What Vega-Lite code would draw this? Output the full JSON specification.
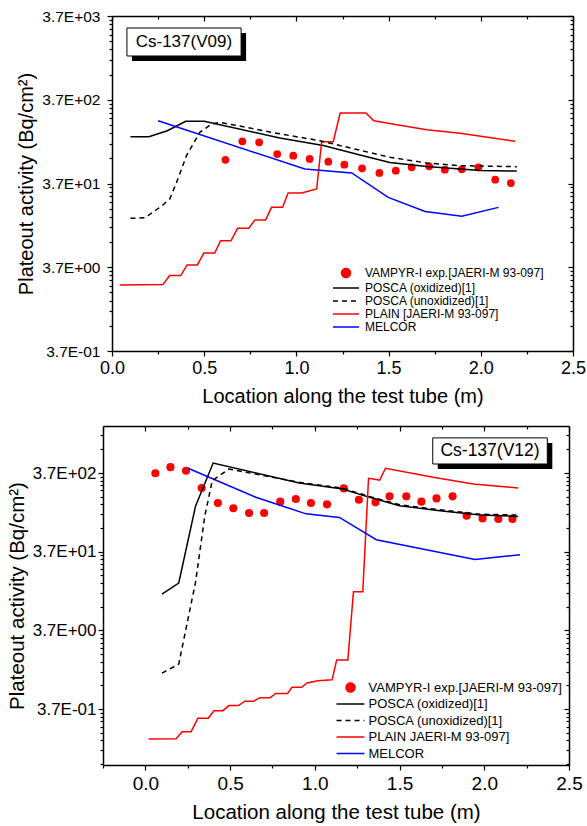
{
  "$schema": "https://vega.github.io/schema/vega-lite/v6.json",
  "padding": {"left": 7, "top": 9, "right": 0, "bottom": 0},
  "config": {
    "font": "Liberation Sans",
    "view": {"stroke": null},
    "axis": {"domainColor": "black", "domainWidth": 1.5, "tickColor": "black", "tickWidth": 1.2, "grid": false, "labelColor": "black", "titleColor": "black", "labelFont": "Liberation Sans", "titleFont": "Liberation Sans", "titleFontWeight": "normal", "labelOverlap": false, "labelFlush": false, "labelBound": false},
    "legend": {"labelFont": "Liberation Sans", "labelColor": "black", "padding": 0, "symbolStrokeWidth": 1.5, "labelLimit": 500}
  },
  "spacing": 19,
  "align": "none",
  "resolve": {"scale": {"x": "independent", "y": "independent", "color": "independent"}, "legend": {"color": "independent"}},
  "datasets": {
    "top": [
      {"x": 0.615, "y": 71, "series": "VAMPYR-I exp.[JAERI-M 93-097]"},
      {"x": 0.707, "y": 118, "series": "VAMPYR-I exp.[JAERI-M 93-097]"},
      {"x": 0.798, "y": 115, "series": "VAMPYR-I exp.[JAERI-M 93-097]"},
      {"x": 0.896, "y": 83, "series": "VAMPYR-I exp.[JAERI-M 93-097]"},
      {"x": 0.983, "y": 79.5, "series": "VAMPYR-I exp.[JAERI-M 93-097]"},
      {"x": 1.072, "y": 72.6, "series": "VAMPYR-I exp.[JAERI-M 93-097]"},
      {"x": 1.173, "y": 67.4, "series": "VAMPYR-I exp.[JAERI-M 93-097]"},
      {"x": 1.26, "y": 62, "series": "VAMPYR-I exp.[JAERI-M 93-097]"},
      {"x": 1.356, "y": 56.2, "series": "VAMPYR-I exp.[JAERI-M 93-097]"},
      {"x": 1.45, "y": 49.4, "series": "VAMPYR-I exp.[JAERI-M 93-097]"},
      {"x": 1.539, "y": 52.6, "series": "VAMPYR-I exp.[JAERI-M 93-097]"},
      {"x": 1.625, "y": 57.7, "series": "VAMPYR-I exp.[JAERI-M 93-097]"},
      {"x": 1.72, "y": 59.3, "series": "VAMPYR-I exp.[JAERI-M 93-097]"},
      {"x": 1.805, "y": 54.1, "series": "VAMPYR-I exp.[JAERI-M 93-097]"},
      {"x": 1.897, "y": 54.7, "series": "VAMPYR-I exp.[JAERI-M 93-097]"},
      {"x": 1.987, "y": 57.7, "series": "VAMPYR-I exp.[JAERI-M 93-097]"},
      {"x": 2.078, "y": 41.1, "series": "VAMPYR-I exp.[JAERI-M 93-097]"},
      {"x": 2.163, "y": 37.5, "series": "VAMPYR-I exp.[JAERI-M 93-097]"},
      {"x": 0.1, "y": 134, "series": "POSCA (oxidized)[1]"},
      {"x": 0.2, "y": 134, "series": "POSCA (oxidized)[1]"},
      {"x": 0.3, "y": 158, "series": "POSCA (oxidized)[1]"},
      {"x": 0.4, "y": 205, "series": "POSCA (oxidized)[1]"},
      {"x": 0.5, "y": 205, "series": "POSCA (oxidized)[1]"},
      {"x": 0.91, "y": 129, "series": "POSCA (oxidized)[1]"},
      {"x": 1.146, "y": 105, "series": "POSCA (oxidized)[1]"},
      {"x": 1.345, "y": 81, "series": "POSCA (oxidized)[1]"},
      {"x": 1.507, "y": 66, "series": "POSCA (oxidized)[1]"},
      {"x": 1.707, "y": 59, "series": "POSCA (oxidized)[1]"},
      {"x": 1.996, "y": 53, "series": "POSCA (oxidized)[1]"},
      {"x": 2.195, "y": 52, "series": "POSCA (oxidized)[1]"},
      {"x": 0.1, "y": 14.2, "series": "POSCA (unoxidized)[1]"},
      {"x": 0.178, "y": 14.4, "series": "POSCA (unoxidized)[1]"},
      {"x": 0.268, "y": 19.8, "series": "POSCA (unoxidized)[1]"},
      {"x": 0.313, "y": 24.2, "series": "POSCA (unoxidized)[1]"},
      {"x": 0.35, "y": 38, "series": "POSCA (unoxidized)[1]"},
      {"x": 0.404, "y": 79.5, "series": "POSCA (unoxidized)[1]"},
      {"x": 0.476, "y": 151, "series": "POSCA (unoxidized)[1]"},
      {"x": 0.54, "y": 190, "series": "POSCA (unoxidized)[1]"},
      {"x": 0.585, "y": 199, "series": "POSCA (unoxidized)[1]"},
      {"x": 0.91, "y": 145, "series": "POSCA (unoxidized)[1]"},
      {"x": 1.127, "y": 120, "series": "POSCA (unoxidized)[1]"},
      {"x": 1.507, "y": 76, "series": "POSCA (unoxidized)[1]"},
      {"x": 1.707, "y": 65, "series": "POSCA (unoxidized)[1]"},
      {"x": 1.888, "y": 60.4, "series": "POSCA (unoxidized)[1]"},
      {"x": 2.195, "y": 58.7, "series": "POSCA (unoxidized)[1]"},
      {"x": 0.042, "y": 2.27, "series": "PLAIN [JAERI-M 93-097]"},
      {"x": 0.276, "y": 2.3, "series": "PLAIN [JAERI-M 93-097]"},
      {"x": 0.313, "y": 2.94, "series": "PLAIN [JAERI-M 93-097]"},
      {"x": 0.373, "y": 2.94, "series": "PLAIN [JAERI-M 93-097]"},
      {"x": 0.407, "y": 3.94, "series": "PLAIN [JAERI-M 93-097]"},
      {"x": 0.463, "y": 3.94, "series": "PLAIN [JAERI-M 93-097]"},
      {"x": 0.498, "y": 5.47, "series": "PLAIN [JAERI-M 93-097]"},
      {"x": 0.557, "y": 5.47, "series": "PLAIN [JAERI-M 93-097]"},
      {"x": 0.589, "y": 7.67, "series": "PLAIN [JAERI-M 93-097]"},
      {"x": 0.645, "y": 7.67, "series": "PLAIN [JAERI-M 93-097]"},
      {"x": 0.681, "y": 10.8, "series": "PLAIN [JAERI-M 93-097]"},
      {"x": 0.742, "y": 10.8, "series": "PLAIN [JAERI-M 93-097]"},
      {"x": 0.775, "y": 13.6, "series": "PLAIN [JAERI-M 93-097]"},
      {"x": 0.833, "y": 13.6, "series": "PLAIN [JAERI-M 93-097]"},
      {"x": 0.865, "y": 19.2, "series": "PLAIN [JAERI-M 93-097]"},
      {"x": 0.925, "y": 19.2, "series": "PLAIN [JAERI-M 93-097]"},
      {"x": 0.955, "y": 28.5, "series": "PLAIN [JAERI-M 93-097]"},
      {"x": 1.028, "y": 28.5, "series": "PLAIN [JAERI-M 93-097]"},
      {"x": 1.11, "y": 31.8, "series": "PLAIN [JAERI-M 93-097]"},
      {"x": 1.137, "y": 117, "series": "PLAIN [JAERI-M 93-097]"},
      {"x": 1.2, "y": 117, "series": "PLAIN [JAERI-M 93-097]"},
      {"x": 1.237, "y": 257, "series": "PLAIN [JAERI-M 93-097]"},
      {"x": 1.377, "y": 257, "series": "PLAIN [JAERI-M 93-097]"},
      {"x": 1.42, "y": 208, "series": "PLAIN [JAERI-M 93-097]"},
      {"x": 1.553, "y": 185, "series": "PLAIN [JAERI-M 93-097]"},
      {"x": 1.707, "y": 162, "series": "PLAIN [JAERI-M 93-097]"},
      {"x": 1.888, "y": 147, "series": "PLAIN [JAERI-M 93-097]"},
      {"x": 2.186, "y": 118, "series": "PLAIN [JAERI-M 93-097]"},
      {"x": 0.25, "y": 208, "series": "MELCOR"},
      {"x": 1.046, "y": 55, "series": "MELCOR"},
      {"x": 1.3, "y": 49.4, "series": "MELCOR"},
      {"x": 1.498, "y": 25.3, "series": "MELCOR"},
      {"x": 1.698, "y": 17.1, "series": "MELCOR"},
      {"x": 1.897, "y": 15, "series": "MELCOR"},
      {"x": 2.096, "y": 19.2, "series": "MELCOR"}
    ],
    "bottom": [
      {"x": 0.059, "y": 367, "series": "VAMPYR-I exp.[JAERI-M 93-097]"},
      {"x": 0.148, "y": 439, "series": "VAMPYR-I exp.[JAERI-M 93-097]"},
      {"x": 0.24, "y": 396, "series": "VAMPYR-I exp.[JAERI-M 93-097]"},
      {"x": 0.332, "y": 239, "series": "VAMPYR-I exp.[JAERI-M 93-097]"},
      {"x": 0.428, "y": 154, "series": "VAMPYR-I exp.[JAERI-M 93-097]"},
      {"x": 0.519, "y": 132, "series": "VAMPYR-I exp.[JAERI-M 93-097]"},
      {"x": 0.612, "y": 115, "series": "VAMPYR-I exp.[JAERI-M 93-097]"},
      {"x": 0.701, "y": 115, "series": "VAMPYR-I exp.[JAERI-M 93-097]"},
      {"x": 0.796, "y": 160, "series": "VAMPYR-I exp.[JAERI-M 93-097]"},
      {"x": 0.888, "y": 173, "series": "VAMPYR-I exp.[JAERI-M 93-097]"},
      {"x": 0.977, "y": 154, "series": "VAMPYR-I exp.[JAERI-M 93-097]"},
      {"x": 1.072, "y": 148, "series": "VAMPYR-I exp.[JAERI-M 93-097]"},
      {"x": 1.171, "y": 236, "series": "VAMPYR-I exp.[JAERI-M 93-097]"},
      {"x": 1.26, "y": 169, "series": "VAMPYR-I exp.[JAERI-M 93-097]"},
      {"x": 1.358, "y": 157, "series": "VAMPYR-I exp.[JAERI-M 93-097]"},
      {"x": 1.441, "y": 187, "series": "VAMPYR-I exp.[JAERI-M 93-097]"},
      {"x": 1.54, "y": 187, "series": "VAMPYR-I exp.[JAERI-M 93-097]"},
      {"x": 1.629, "y": 160, "series": "VAMPYR-I exp.[JAERI-M 93-097]"},
      {"x": 1.718, "y": 176, "series": "VAMPYR-I exp.[JAERI-M 93-097]"},
      {"x": 1.813, "y": 187, "series": "VAMPYR-I exp.[JAERI-M 93-097]"},
      {"x": 1.896, "y": 106, "series": "VAMPYR-I exp.[JAERI-M 93-097]"},
      {"x": 1.99, "y": 98, "series": "VAMPYR-I exp.[JAERI-M 93-097]"},
      {"x": 2.083, "y": 96.3, "series": "VAMPYR-I exp.[JAERI-M 93-097]"},
      {"x": 2.166, "y": 96.3, "series": "VAMPYR-I exp.[JAERI-M 93-097]"},
      {"x": 0.098, "y": 10.7, "series": "POSCA (oxidized)[1]"},
      {"x": 0.197, "y": 14.8, "series": "POSCA (oxidized)[1]"},
      {"x": 0.296, "y": 140, "series": "POSCA (oxidized)[1]"},
      {"x": 0.4, "y": 496, "series": "POSCA (oxidized)[1]"},
      {"x": 0.908, "y": 276, "series": "POSCA (oxidized)[1]"},
      {"x": 1.165, "y": 232, "series": "POSCA (oxidized)[1]"},
      {"x": 1.303, "y": 187, "series": "POSCA (oxidized)[1]"},
      {"x": 1.5, "y": 142, "series": "POSCA (oxidized)[1]"},
      {"x": 1.738, "y": 123, "series": "POSCA (oxidized)[1]"},
      {"x": 1.975, "y": 108, "series": "POSCA (oxidized)[1]"},
      {"x": 2.2, "y": 104, "series": "POSCA (oxidized)[1]"},
      {"x": 0.098, "y": 1.06, "series": "POSCA (unoxidized)[1]"},
      {"x": 0.197, "y": 1.38, "series": "POSCA (unoxidized)[1]"},
      {"x": 0.296, "y": 15.1, "series": "POSCA (unoxidized)[1]"},
      {"x": 0.351, "y": 106, "series": "POSCA (unoxidized)[1]"},
      {"x": 0.395, "y": 296, "series": "POSCA (unoxidized)[1]"},
      {"x": 0.493, "y": 416, "series": "POSCA (unoxidized)[1]"},
      {"x": 0.908, "y": 282, "series": "POSCA (unoxidized)[1]"},
      {"x": 1.165, "y": 237, "series": "POSCA (unoxidized)[1]"},
      {"x": 1.303, "y": 191, "series": "POSCA (unoxidized)[1]"},
      {"x": 1.5, "y": 146, "series": "POSCA (unoxidized)[1]"},
      {"x": 1.738, "y": 126, "series": "POSCA (unoxidized)[1]"},
      {"x": 1.975, "y": 111, "series": "POSCA (unoxidized)[1]"},
      {"x": 2.2, "y": 108, "series": "POSCA (unoxidized)[1]"},
      {"x": 0.02, "y": 0.154, "series": "PLAIN JAERI-M 93-097]"},
      {"x": 0.181, "y": 0.155, "series": "PLAIN JAERI-M 93-097]"},
      {"x": 0.217, "y": 0.191, "series": "PLAIN JAERI-M 93-097]"},
      {"x": 0.27, "y": 0.191, "series": "PLAIN JAERI-M 93-097]"},
      {"x": 0.31, "y": 0.283, "series": "PLAIN JAERI-M 93-097]"},
      {"x": 0.371, "y": 0.283, "series": "PLAIN JAERI-M 93-097]"},
      {"x": 0.405, "y": 0.353, "series": "PLAIN JAERI-M 93-097]"},
      {"x": 0.458, "y": 0.353, "series": "PLAIN JAERI-M 93-097]"},
      {"x": 0.493, "y": 0.41, "series": "PLAIN JAERI-M 93-097]"},
      {"x": 0.549, "y": 0.41, "series": "PLAIN JAERI-M 93-097]"},
      {"x": 0.588, "y": 0.466, "series": "PLAIN JAERI-M 93-097]"},
      {"x": 0.638, "y": 0.466, "series": "PLAIN JAERI-M 93-097]"},
      {"x": 0.677, "y": 0.517, "series": "PLAIN JAERI-M 93-097]"},
      {"x": 0.736, "y": 0.517, "series": "PLAIN JAERI-M 93-097]"},
      {"x": 0.77, "y": 0.585, "series": "PLAIN JAERI-M 93-097]"},
      {"x": 0.839, "y": 0.585, "series": "PLAIN JAERI-M 93-097]"},
      {"x": 0.865, "y": 0.7, "series": "PLAIN JAERI-M 93-097]"},
      {"x": 0.922, "y": 0.7, "series": "PLAIN JAERI-M 93-097]"},
      {"x": 0.954, "y": 0.795, "series": "PLAIN JAERI-M 93-097]"},
      {"x": 1.017, "y": 0.85, "series": "PLAIN JAERI-M 93-097]"},
      {"x": 1.102, "y": 0.87, "series": "PLAIN JAERI-M 93-097]"},
      {"x": 1.129, "y": 1.56, "series": "PLAIN JAERI-M 93-097]"},
      {"x": 1.195, "y": 1.56, "series": "PLAIN JAERI-M 93-097]"},
      {"x": 1.228, "y": 11.5, "series": "PLAIN JAERI-M 93-097]"},
      {"x": 1.283, "y": 11.5, "series": "PLAIN JAERI-M 93-097]"},
      {"x": 1.317, "y": 317, "series": "PLAIN JAERI-M 93-097]"},
      {"x": 1.383, "y": 301, "series": "PLAIN JAERI-M 93-097]"},
      {"x": 1.417, "y": 425, "series": "PLAIN JAERI-M 93-097]"},
      {"x": 1.698, "y": 326, "series": "PLAIN JAERI-M 93-097]"},
      {"x": 1.935, "y": 268, "series": "PLAIN JAERI-M 93-097]"},
      {"x": 2.2, "y": 239, "series": "PLAIN JAERI-M 93-097]"},
      {"x": 0.252, "y": 425, "series": "MELCOR"},
      {"x": 0.652, "y": 182, "series": "MELCOR"},
      {"x": 0.948, "y": 112, "series": "MELCOR"},
      {"x": 1.145, "y": 101, "series": "MELCOR"},
      {"x": 1.363, "y": 52.6, "series": "MELCOR"},
      {"x": 1.945, "y": 29.4, "series": "MELCOR"},
      {"x": 2.211, "y": 33.9, "series": "MELCOR"}
    ]
  },
  "vconcat": [
    {
      "width": 470,
      "height": 335,
      "data": {"name": "top"},
      "resolve": {"axis": {"x": "independent", "y": "independent"}},
      "layer": [
        {
          "transform": [{"filter": "datum.series == 'VAMPYR-I exp.[JAERI-M 93-097]'"}],
          "mark": {"type": "point", "shape": "circle", "filled": true, "size": 60, "opacity": 1},
          "encoding": {
            "x": {"field": "x", "type": "quantitative", "scale": {"domain": [0, 2.5], "range": [9, 470], "nice": false, "zero": false},
              "axis": {"orient": "bottom", "values": [0, 0.25, 0.5, 0.75, 1, 1.25, 1.5, 1.75, 2, 2.25, 2.5], "labelExpr": "datum.value % 0.5 == 0 ? format(datum.value, '.1f') : ''", "tickSize": {"condition": {"test": "datum.value % 0.5 == 0", "value": 5}, "value": 3}, "labelFontSize": 18, "labelPadding": 3, "title": "Location along the test tube (m)", "titleFontSize": 20, "titlePadding": 9}},
            "y": {"field": "y", "type": "quantitative", "scale": {"type": "log", "domain": [0.37, 3700], "nice": false, "zero": false},
              "axis": {"orient": "left", "offset": -9, "values": [0.37, 0.74, 1.11, 1.48, 1.85, 2.22, 2.59, 2.96, 3.33, 3.7, 7.4, 11.1, 14.8, 18.5, 22.2, 25.9, 29.6, 33.3, 37, 74, 111, 148, 185, 222, 259, 296, 333, 370, 740, 1110, 1480, 1850, 2220, 2590, 2960, 3330, 3700],
                "labelExpr": "datum.value == 0.37 ? '3.7E-01' : datum.value == 3.7 ? '3.7E+00' : datum.value == 37 ? '3.7E+01' : datum.value == 370 ? '3.7E+02' : datum.value == 3700 ? '3.7E+03' : ''",
                "tickSize": {"condition": {"test": "indexof([0.37, 3.7, 37, 370, 3700], datum.value) >= 0", "value": 5}, "value": 3},
                "labelFontSize": 15.5, "labelPadding": 7, "title": "Plateout activity (Bq/cm²)", "titleFontSize": 20, "titlePadding": 5}},
            "color": {"field": "series", "type": "nominal",
              "scale": {"domain": ["VAMPYR-I exp.[JAERI-M 93-097]", "POSCA (oxidized)[1]", "POSCA (unoxidized)[1]", "PLAIN [JAERI-M 93-097]", "MELCOR"], "range": ["#ff0000", "#000000", "#000000", "#ff0000", "#0000ff"]},
              "legend": {"title": null, "orient": "none", "legendX": 237, "legendY": 251, "labelFontSize": 12, "rowPadding": 1, "labelOffset": 13, "symbolSize": 81,
                "symbolType": {"expr": "datum.value == 'VAMPYR-I exp.[JAERI-M 93-097]' ? 'circle' : 'M-2.9,0H2.9'"},
                "symbolDash": {"expr": "datum.value == 'POSCA (unoxidized)[1]' ? [5, 4] : [1, 0]"},
                "symbolStrokeColor": {"expr": "datum.value == 'VAMPYR-I exp.[JAERI-M 93-097]' ? 'transparent' : datum.value == 'MELCOR' ? '#0000ff' : indexof(datum.value, 'PLAIN') == 0 ? '#ff0000' : '#000000'"},
                "symbolFillColor": {"expr": "datum.value == 'VAMPYR-I exp.[JAERI-M 93-097]' ? '#ff0000' : 'transparent'"}}}
          }
        },
        {
          "transform": [{"filter": "datum.series != 'VAMPYR-I exp.[JAERI-M 93-097]' && datum.series != 'POSCA (unoxidized)[1]'"}],
          "mark": {"type": "line", "strokeWidth": 1.5},
          "encoding": {
            "x": {"field": "x", "type": "quantitative", "axis": {"orient": "top", "values": [0, 0.25, 0.5, 0.75, 1, 1.25, 1.5, 1.75, 2, 2.25, 2.5], "labels": false, "title": null, "tickSize": {"condition": {"test": "datum.value % 0.5 == 0", "value": -5}, "value": -3}}},
            "y": {"field": "y", "type": "quantitative", "axis": {"orient": "right", "values": [0.37, 0.74, 1.11, 1.48, 1.85, 2.22, 2.59, 2.96, 3.33, 3.7, 7.4, 11.1, 14.8, 18.5, 22.2, 25.9, 29.6, 33.3, 37, 74, 111, 148, 185, 222, 259, 296, 333, 370, 740, 1110, 1480, 1850, 2220, 2590, 2960, 3330, 3700], "labels": false, "title": null, "tickSize": {"condition": {"test": "indexof([0.37, 3.7, 37, 370, 3700], datum.value) >= 0", "value": -5}, "value": -3}}},
            "color": {"field": "series", "type": "nominal"}
          }
        },
        {
          "transform": [{"filter": "datum.series == 'POSCA (unoxidized)[1]'"}],
          "mark": {"type": "line", "strokeWidth": 1.5, "strokeDash": [5, 4]},
          "encoding": {
            "x": {"field": "x", "type": "quantitative", "axis": null},
            "y": {"field": "y", "type": "quantitative", "axis": null},
            "color": {"field": "series", "type": "nominal"}
          }
        },
        {
          "data": {"values": [{"label": "Cs-137(V09)"}]},
          "mark": {"type": "rect", "fill": "black", "xOffset": 5, "x2Offset": 5, "yOffset": 5, "y2Offset": 5},
          "encoding": {
            "x": {"datum": 0.081, "type": "quantitative", "axis": null},
            "x2": {"datum": 0.7},
            "y": {"datum": 2660, "type": "quantitative", "axis": null},
            "y2": {"datum": 1232}
          }
        },
        {
          "data": {"values": [{"label": "Cs-137(V09)"}]},
          "mark": {"type": "rect", "fill": "white", "stroke": "black", "strokeWidth": 1},
          "encoding": {
            "x": {"datum": 0.081, "type": "quantitative", "axis": null},
            "x2": {"datum": 0.7},
            "y": {"datum": 2660, "type": "quantitative", "axis": null},
            "y2": {"datum": 1232}
          }
        },
        {
          "data": {"values": [{"label": "Cs-137(V09)"}]},
          "mark": {"type": "text", "fontSize": 17, "font": "Liberation Sans", "color": "black", "align": "center", "baseline": "middle"},
          "encoding": {
            "text": {"field": "label"},
            "x": {"datum": 0.39, "type": "quantitative", "axis": null},
            "y": {"datum": 1810, "type": "quantitative", "axis": null}
          }
        }
      ]
    },
    {
      "width": 466,
      "height": 339,
      "data": {"name": "bottom"},
      "resolve": {"axis": {"x": "independent", "y": "independent"}},
      "layer": [
        {
          "transform": [{"filter": "datum.series == 'VAMPYR-I exp.[JAERI-M 93-097]'"}],
          "mark": {"type": "point", "shape": "circle", "filled": true, "size": 66, "opacity": 1},
          "encoding": {
            "x": {"field": "x", "type": "quantitative", "scale": {"domain": [-0.25, 2.5], "nice": false, "zero": false},
              "axis": {"orient": "bottom", "values": [-0.25, 0, 0.25, 0.5, 0.75, 1, 1.25, 1.5, 1.75, 2, 2.25, 2.5], "labelExpr": "datum.value % 0.5 == 0 ? format(datum.value, '.1f') : ''", "tickSize": {"condition": {"test": "datum.value % 0.5 == 0", "value": 5}, "value": 3}, "labelFontSize": 19, "labelPadding": 4, "title": "Location along the test tube (m)", "titleFontSize": 20.5, "titlePadding": 9}},
            "y": {"field": "y", "type": "quantitative", "scale": {"type": "log", "domain": [0.072, 1465], "nice": false, "zero": false},
              "axis": {"orient": "left", "values": [0.074, 0.111, 0.148, 0.185, 0.222, 0.259, 0.296, 0.333, 0.37, 0.74, 1.11, 1.48, 1.85, 2.22, 2.59, 2.96, 3.33, 3.7, 7.4, 11.1, 14.8, 18.5, 22.2, 25.9, 29.6, 33.3, 37, 74, 111, 148, 185, 222, 259, 296, 333, 370, 740, 1110],
                "labelExpr": "datum.value == 0.37 ? '3.7E-01' : datum.value == 3.7 ? '3.7E+00' : datum.value == 37 ? '3.7E+01' : datum.value == 370 ? '3.7E+02' : ''",
                "tickSize": {"condition": {"test": "indexof([0.37, 3.7, 37, 370], datum.value) >= 0", "value": 5}, "value": 3},
                "labelFontSize": 17, "labelPadding": 2, "title": "Plateout activity (Bq/cm²)", "titleFontSize": 20.5, "titlePadding": 5}},
            "color": {"field": "series", "type": "nominal",
              "scale": {"domain": ["VAMPYR-I exp.[JAERI-M 93-097]", "POSCA (oxidized)[1]", "POSCA (unoxidized)[1]", "PLAIN JAERI-M 93-097]", "MELCOR"], "range": ["#ff0000", "#000000", "#000000", "#ff0000", "#0000ff"]},
              "legend": {"title": null, "orient": "none", "legendX": 241, "legendY": 255, "labelFontSize": 13, "rowPadding": 2.5, "labelOffset": 11.5, "symbolSize": 81,
                "symbolType": {"expr": "datum.value == 'VAMPYR-I exp.[JAERI-M 93-097]' ? 'circle' : 'M-3.1,0H3.1'"},
                "symbolDash": {"expr": "datum.value == 'POSCA (unoxidized)[1]' ? [5, 4] : [1, 0]"},
                "symbolStrokeColor": {"expr": "datum.value == 'VAMPYR-I exp.[JAERI-M 93-097]' ? 'transparent' : datum.value == 'MELCOR' ? '#0000ff' : indexof(datum.value, 'PLAIN') == 0 ? '#ff0000' : '#000000'"},
                "symbolFillColor": {"expr": "datum.value == 'VAMPYR-I exp.[JAERI-M 93-097]' ? '#ff0000' : 'transparent'"}}}
          }
        },
        {
          "transform": [{"filter": "datum.series != 'VAMPYR-I exp.[JAERI-M 93-097]' && datum.series != 'POSCA (unoxidized)[1]'"}],
          "mark": {"type": "line", "strokeWidth": 1.5},
          "encoding": {
            "x": {"field": "x", "type": "quantitative", "axis": {"orient": "top", "values": [-0.25, 0, 0.25, 0.5, 0.75, 1, 1.25, 1.5, 1.75, 2, 2.25, 2.5], "labels": false, "title": null, "tickSize": {"condition": {"test": "datum.value % 0.5 == 0", "value": -5}, "value": -3}}},
            "y": {"field": "y", "type": "quantitative", "axis": {"orient": "right", "values": [0.074, 0.111, 0.148, 0.185, 0.222, 0.259, 0.296, 0.333, 0.37, 0.74, 1.11, 1.48, 1.85, 2.22, 2.59, 2.96, 3.33, 3.7, 7.4, 11.1, 14.8, 18.5, 22.2, 25.9, 29.6, 33.3, 37, 74, 111, 148, 185, 222, 259, 296, 333, 370, 740, 1110], "labels": false, "title": null, "tickSize": {"condition": {"test": "indexof([0.37, 3.7, 37, 370], datum.value) >= 0", "value": -5}, "value": -3}}},
            "color": {"field": "series", "type": "nominal"}
          }
        },
        {
          "transform": [{"filter": "datum.series == 'POSCA (unoxidized)[1]'"}],
          "mark": {"type": "line", "strokeWidth": 1.5, "strokeDash": [5, 4]},
          "encoding": {
            "x": {"field": "x", "type": "quantitative", "axis": null},
            "y": {"field": "y", "type": "quantitative", "axis": null},
            "color": {"field": "series", "type": "nominal"}
          }
        },
        {
          "data": {"values": [{"label": "Cs-137(V12)"}]},
          "mark": {"type": "rect", "fill": "black", "xOffset": 5, "x2Offset": 5, "yOffset": 5, "y2Offset": 5},
          "encoding": {
            "x": {"datum": 1.696, "type": "quantitative", "axis": null},
            "x2": {"datum": 2.372},
            "y": {"datum": 1034, "type": "quantitative", "axis": null},
            "y2": {"datum": 482}
          }
        },
        {
          "data": {"values": [{"label": "Cs-137(V12)"}]},
          "mark": {"type": "rect", "fill": "white", "stroke": "black", "strokeWidth": 1},
          "encoding": {
            "x": {"datum": 1.696, "type": "quantitative", "axis": null},
            "x2": {"datum": 2.372},
            "y": {"datum": 1034, "type": "quantitative", "axis": null},
            "y2": {"datum": 482}
          }
        },
        {
          "data": {"values": [{"label": "Cs-137(V12)"}]},
          "mark": {"type": "text", "fontSize": 17.5, "font": "Liberation Sans", "color": "black", "align": "center", "baseline": "middle"},
          "encoding": {
            "text": {"field": "label"},
            "x": {"datum": 2.034, "type": "quantitative", "axis": null},
            "y": {"datum": 703, "type": "quantitative", "axis": null}
          }
        }
      ]
    }
  ]
}
